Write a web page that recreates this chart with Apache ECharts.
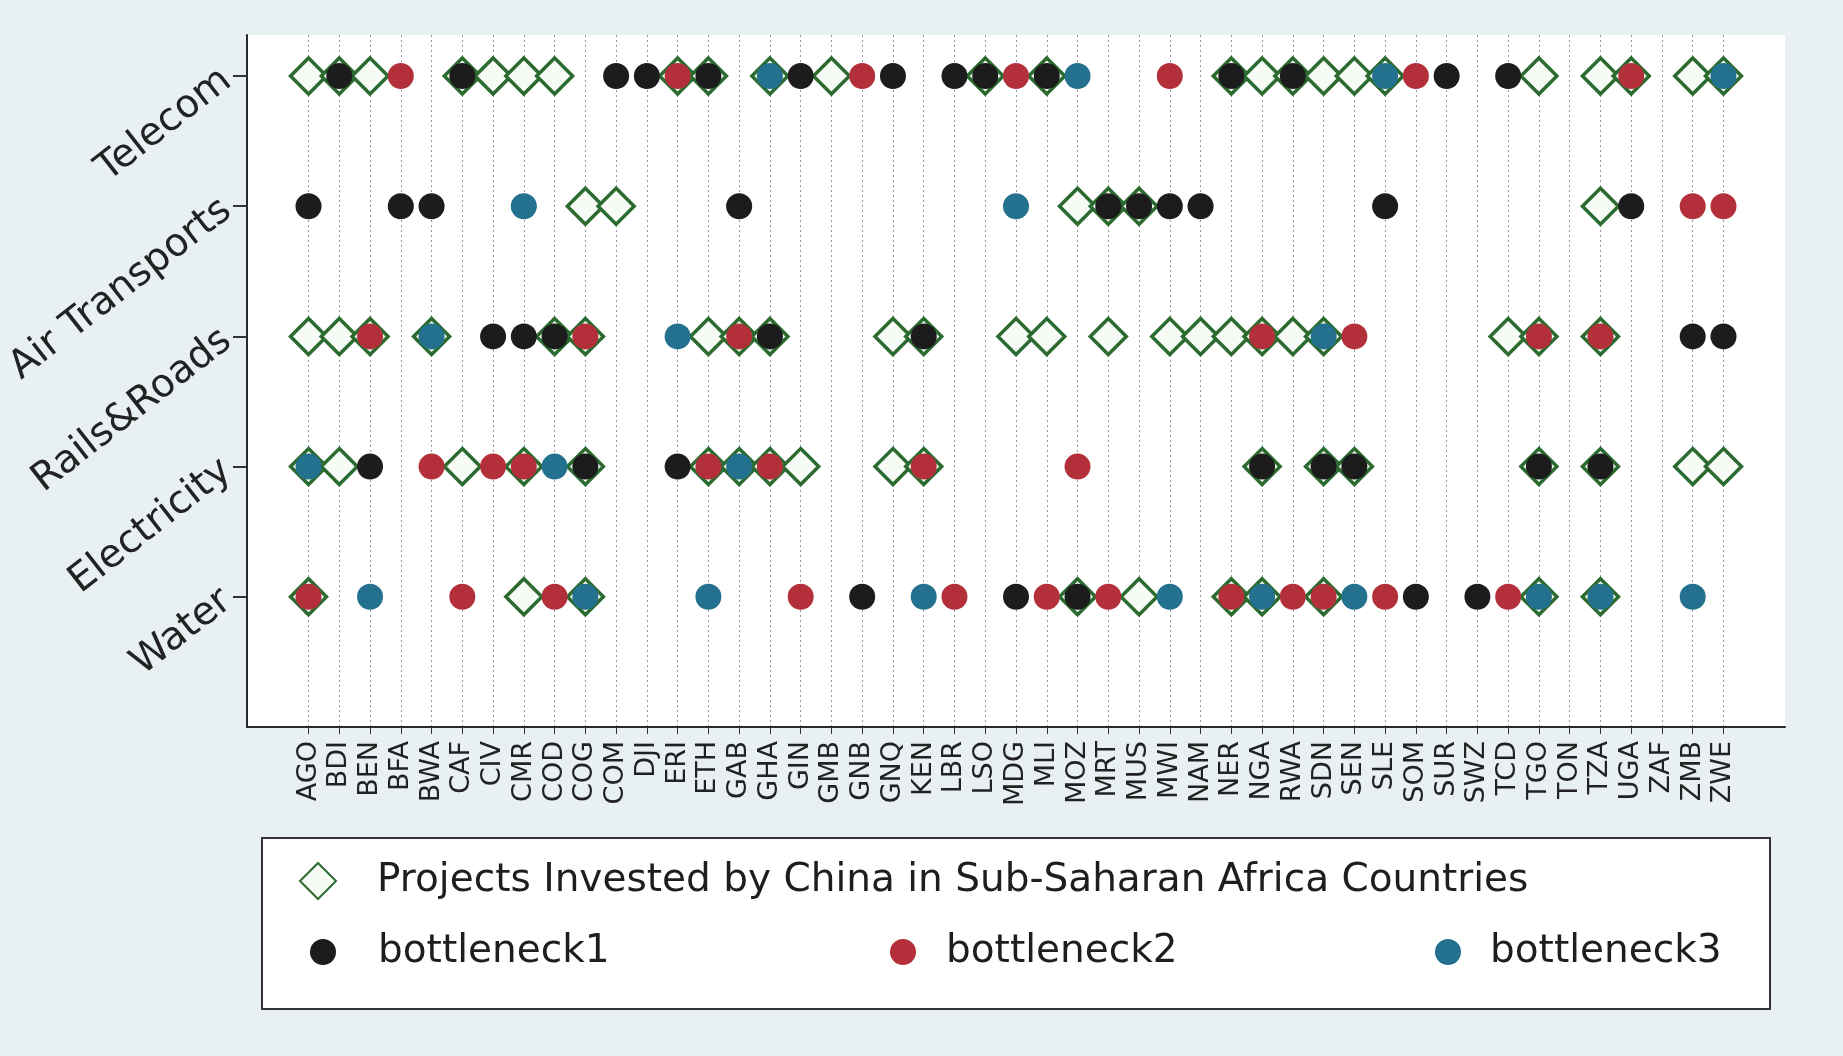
<!DOCTYPE html>
<html>
<head>
<meta charset="utf-8">
<script src="https://cdn.jsdelivr.net/npm/echarts@6/dist/echarts.min.js"></script>
<style>
  html, body { margin: 0; padding: 0; background: #e9f0f3; }
  #chart { width: 1843px; height: 1056px; }
</style>
</head>
<body>
<div id="chart"></div>
<script>
// Country codes along the x axis
const countries = ['AGO','BDI','BEN','BFA','BWA','CAF','CIV','CMR','COD','COG','COM','DJI','ERI','ETH',
  'GAB','GHA','GIN','GMB','GNB','GNQ','KEN','LBR','LSO','MDG','MLI','MOZ','MRT','MUS','MWI','NAM',
  'NER','NGA','RWA','SDN','SEN','SLE','SOM','SUR','SWZ','TCD','TGO','TON','TZA','UGA','ZAF','ZMB','ZWE'];

// Sectors on the y axis (bottom to top)
const sectors = ['Water', 'Electricity', 'Rails&Roads', 'Air Transports', 'Telecom'];

// Telecom
const telecomProjects = ['AGO','BDI','BEN','CAF','CIV','CMR','COD','ERI','ETH','GHA','GMB','LSO','MLI','NER','NGA','RWA','SDN','SEN','SLE','TGO','TZA','UGA','ZMB','ZWE'];
const telecomB1 = ['BDI','CAF','COM','DJI','ETH','GIN','GNQ','LBR','LSO','MLI','NER','RWA','SUR','TCD'];
const telecomB2 = ['BFA','ERI','GNB','MDG','MWI','SOM','UGA'];
const telecomB3 = ['GHA','MOZ','SLE','ZWE'];

// Air Transports
const airProjects = ['COG','COM','MOZ','MRT','MUS','TZA'];
const airB1 = ['AGO','BFA','BWA','GAB','MRT','MUS','MWI','NAM','SLE','UGA'];
const airB2 = ['ZMB','ZWE'];
const airB3 = ['CMR','MDG'];

// Rails & Roads
const roadsProjects = ['AGO','BDI','BEN','BWA','COD','COG','ETH','GAB','GHA','GNQ','KEN','MDG','MLI','MRT','MWI','NAM','NER','NGA','RWA','SDN','TCD','TGO','TZA'];
const roadsB1 = ['CIV','CMR','COD','GHA','KEN','ZMB','ZWE'];
const roadsB2 = ['BEN','COG','GAB','NGA','SEN','TGO','TZA'];
const roadsB3 = ['BWA','ERI','SDN'];

// Electricity
const elecProjects = ['AGO','BDI','CAF','CMR','COG','ETH','GAB','GHA','GIN','GNQ','KEN','NGA','SDN','SEN','TGO','TZA','ZMB','ZWE'];
const elecB1 = ['BEN','COG','ERI','NGA','SDN','SEN','TGO','TZA'];
const elecB2 = ['BWA','CIV','CMR','ETH','GHA','KEN','MOZ'];
const elecB3 = ['AGO','COD','GAB'];

// Water
const waterProjects = ['AGO','CMR','COG','MOZ','MUS','NER','NGA','SDN','TGO','TZA'];
const waterB1 = ['GNB','MDG','MOZ','SOM','SWZ'];
const waterB2 = ['AGO','CAF','COD','GIN','LBR','MLI','MRT','NER','RWA','SDN','SLE','TCD'];
const waterB3 = ['BEN','COG','ETH','KEN','MWI','NGA','SEN','TGO','TZA','ZMB'];

const projectsName = 'Projects Invested by China in Sub-Saharan Africa Countries';

// [sector level, list] pairs -> [x index, y level] points
function points(groups) {
  const out = [];
  groups.forEach(([level, list]) => {
    list.forEach(code => out.push([countries.indexOf(code), level]));
  });
  return out;
}

const projectPts = points([[1, waterProjects], [2, elecProjects], [3, roadsProjects], [4, airProjects], [5, telecomProjects]]);
const b1Pts = points([[1, waterB1], [2, elecB1], [3, roadsB1], [4, airB1], [5, telecomB1]]);
const b2Pts = points([[1, waterB2], [2, elecB2], [3, roadsB2], [4, airB2], [5, telecomB2]]);
const b3Pts = points([[1, waterB3], [2, elecB3], [3, roadsB3], [4, airB3], [5, telecomB3]]);

const xTicks = countries.map((c, i) => i);
const yTicks = [1, 2, 3, 4, 5];

const FONT = 'DejaVu Sans';
const GREEN = '#2c6b30';
const BLACK = '#1c1c1c';
const RED = '#b3303a';
const BLUE = '#23708f';
const DIAMOND = 36;
const DOT = 26;

const chart = echarts.init(document.getElementById('chart'), null, { renderer: 'canvas' });

function legendText(padLeft) {
  return { fontFamily: FONT, fontSize: 39, color: '#1e1e1e', lineHeight: 40, padding: [0, 0, 0, padLeft] };
}

function legendItem(name, left, top, size, padLeft) {
  return {
    data: [name], selectedMode: false, left: left, top: top, padding: 0,
    itemWidth: size, itemHeight: size, textStyle: legendText(padLeft)
  };
}

chart.setOption({
  backgroundColor: '#e9f0f3',
  animation: false,
  grid: {
    left: 247, right: 58, top: 35, bottom: 329,
    show: true, backgroundColor: '#ffffff', borderWidth: 0
  },
  graphic: [{
    type: 'rect', left: 261, top: 837, z: -1,
    shape: { width: 1508, height: 171 },
    style: { fill: '#ffffff', stroke: '#333333', lineWidth: 2 }
  }],
  legend: [
    legendItem(projectsName, 299, 861, DIAMOND, 36),
    legendItem('bottleneck1', 310, 932, DOT, 37),
    legendItem('bottleneck2', 890, 932, DOT, 25),
    legendItem('bottleneck3', 1435, 932, DOT, 24)
  ],
  xAxis: {
    type: 'value', min: -2, max: 48,
    axisLine: { show: true, onZero: false, lineStyle: { color: '#2a2a2a', width: 2 } },
    axisTick: { show: true, customValues: xTicks, length: 7, lineStyle: { color: '#333', width: 1 } },
    axisLabel: {
      customValues: xTicks, formatter: v => countries[v], rotate: 90, margin: 14,
      fontFamily: FONT, fontSize: 27, color: '#222'
    },
    splitLine: { show: true, lineStyle: { color: '#999999', width: 1, type: [2, 3] } }
  },
  yAxis: {
    type: 'value', min: 0, max: 5.315,
    axisLine: { show: true, onZero: false, lineStyle: { color: '#2a2a2a', width: 2 } },
    axisTick: { show: true, customValues: yTicks, length: 14, lineStyle: { color: '#333', width: 2 } },
    axisLabel: {
      customValues: yTicks, formatter: v => sectors[v - 1], rotate: 38, margin: 20,
      fontFamily: FONT, fontSize: 39, color: '#222'
    },
    splitLine: { show: false }
  },
  series: [
    {
      name: projectsName, type: 'scatter', data: projectPts, z: 2,
      symbol: 'diamond', symbolSize: DIAMOND,
      itemStyle: { color: '#f6fbf6', borderColor: GREEN, borderWidth: 3.5, opacity: 1 }
    },
    {
      name: 'bottleneck1', type: 'scatter', data: b1Pts, z: 3,
      symbol: 'circle', symbolSize: DOT, itemStyle: { color: BLACK, opacity: 1 }
    },
    {
      name: 'bottleneck2', type: 'scatter', data: b2Pts, z: 3,
      symbol: 'circle', symbolSize: DOT, itemStyle: { color: RED, opacity: 1 }
    },
    {
      name: 'bottleneck3', type: 'scatter', data: b3Pts, z: 3,
      symbol: 'circle', symbolSize: DOT, itemStyle: { color: BLUE, opacity: 1 }
    }
  ]
});
</script>
</body>
</html>
